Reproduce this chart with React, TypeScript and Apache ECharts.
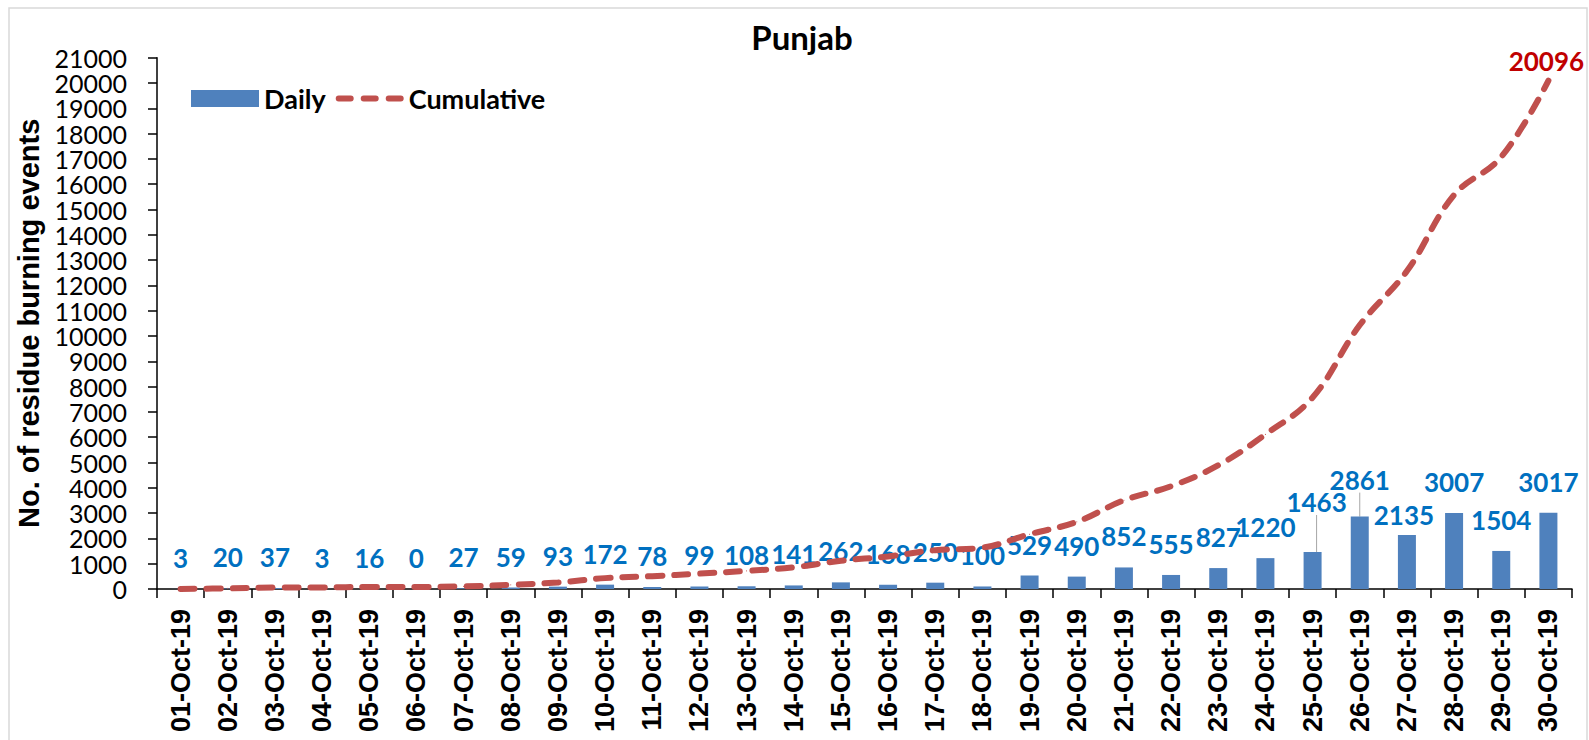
import React, { useEffect, useRef } from "react";
import * as echarts from "echarts";

const categories = [
  "01-Oct-19", "02-Oct-19", "03-Oct-19", "04-Oct-19", "05-Oct-19", "06-Oct-19",
  "07-Oct-19", "08-Oct-19", "09-Oct-19", "10-Oct-19", "11-Oct-19", "12-Oct-19",
  "13-Oct-19", "14-Oct-19", "15-Oct-19", "16-Oct-19", "17-Oct-19", "18-Oct-19",
  "19-Oct-19", "20-Oct-19", "21-Oct-19", "22-Oct-19", "23-Oct-19", "24-Oct-19",
  "25-Oct-19", "26-Oct-19", "27-Oct-19", "28-Oct-19", "29-Oct-19", "30-Oct-19",
];

const daily = [
  3, 20, 37, 3, 16, 0, 27, 59, 93, 172, 78, 99, 108, 141, 262, 168, 250, 100,
  529, 490, 852, 555, 827, 1220, 1463, 2861, 2135, 3007, 1504, 3017,
];

const cumulative = [
  3, 23, 60, 63, 79, 79, 106, 165, 258, 430, 508, 607, 715, 856, 1118, 1286,
  1536, 1636, 2165, 2655, 3507, 4062, 4889, 6109, 7572, 10433, 12568, 15575,
  17079, 20096,
];

const yTicks = { min: 0, max: 21000, interval: 1000 };

// manual label nudges (as in the original chart), index -> [dx, dy]
const labelShift: Record<number, [number, number]> = {
  24: [4, -19],
  25: [0, -6],
  26: [-3, 11],
};
const leaderIdx = [24, 25];

const dashIcon =
  "path://M0,0h0.01v0.01h-0.01z M67.99,16.99h0.01v0.01h-0.01z " +
  "M3,5.5h12a3,3 0 0 1 0,6h-12a3,3 0 0 1 0,-6z " +
  "M28,5.5h12a3,3 0 0 1 0,6h-12a3,3 0 0 1 0,-6z " +
  "M53,5.5h12a3,3 0 0 1 0,6h-12a3,3 0 0 1 0,-6z";

export default function App() {
  const ref = useRef<HTMLDivElement>(null);

  useEffect(() => {
    if (!ref.current) return;
    const chart = echarts.init(ref.current, null, { renderer: "svg" });
    const last = cumulative.length - 1;

    const barData = daily.map((v, i) =>
      leaderIdx.includes(i)
        ? { value: v, labelLine: { show: true, lineStyle: { color: "#A6A6A6", width: 1 } } }
        : v
    );
    const lineData = cumulative.map((v, i) =>
      i === last
        ? {
            value: v,
            label: {
              show: true,
              position: "top",
              distance: 6,
              offset: [-2, 0],
              color: "#C00000",
              fontFamily: "Lato",
              fontWeight: "bold",
              fontSize: 26,
            },
          }
        : v
    );

    chart.setOption({
      animation: false,
      backgroundColor: "#fff",
      title: {
        text: "Punjab",
        left: 797,
        textAlign: "center",
        top: 15,
        textStyle: { fontFamily: "Lato", fontWeight: "bold", fontSize: 33, color: "#000" },
      },
      legend: {
        left: 186,
        top: 80,
        itemWidth: 68,
        itemHeight: 17,
        itemGap: 10,
        textStyle: { fontFamily: "Lato", fontWeight: "bold", fontSize: 27, color: "#000" },
        data: [
          { name: "Daily", icon: "rect" },
          { name: "Cumulative", icon: dashIcon, itemStyle: { color: "#C0504D" } },
        ],
      },
      grid: { left: 157, right: 17, top: 57.7, bottom: 151, containLabel: false },
      xAxis: {
        type: "category",
        data: categories,
        boundaryGap: true,
        axisLine: { lineStyle: { color: "#000", width: 1.5 } },
        axisTick: { show: true, interval: 0, length: 9, lineStyle: { color: "#000", width: 1.5 } },
        axisLabel: {
          interval: 0,
          rotate: 90,
          margin: 20,
          fontFamily: "Liberation Sans",
          fontWeight: "bold",
          fontSize: 27,
          lineHeight: 30,
          color: "#000",
        },
      },
      yAxis: {
        type: "value",
        min: yTicks.min,
        max: yTicks.max,
        interval: yTicks.interval,
        name: "No. of residue burning events",
        nameLocation: "middle",
        nameGap: 103,
        nameTextStyle: { fontFamily: "Liberation Sans", fontWeight: "bold", fontSize: 29, color: "#000" },
        axisLine: { show: true, lineStyle: { color: "#000", width: 1.5 } },
        axisTick: { show: true, length: 9, lineStyle: { color: "#000", width: 1.5 } },
        splitLine: { show: false },
        axisLabel: {
          margin: 30,
          fontFamily: "Lato",
          fontSize: 25,
          lineHeight: 22,
          color: "#000",
          showMinLabel: true,
          showMaxLabel: true,
          hideOverlap: false,
          formatter: (v: number) => String(v),
        },
      },
      series: [
        {
          name: "Daily",
          type: "bar",
          data: barData,
          barWidth: 18,
          itemStyle: { color: "#4F81BD" },
          label: {
            show: true,
            position: "top",
            distance: 18,
            color: "#0070C0",
            fontFamily: "Lato",
            fontWeight: "bold",
            fontSize: 26,
          },
          labelLine: { show: false },
          labelLayout: (p: any) => {
            const s = labelShift[p.dataIndex];
            return s ? { dx: s[0], dy: s[1] } : {};
          },
          z: 2,
        },
        {
          name: "Cumulative",
          type: "line",
          data: lineData,
          smooth: 0.4,
          symbol: "circle",
          symbolSize: 1,
          showSymbol: true,
          lineStyle: { color: "#C0504D", width: 6, type: [14, 12], cap: "round" },
          itemStyle: { color: "#C0504D" },
          z: 3,
        },
      ],
      graphic: [
        {
          type: "rect",
          shape: { x: 9, y: 8, width: 1578, height: 760 },
          style: { fill: "none", stroke: "#D9D9D9", lineWidth: 1.5 },
          silent: true,
        },
      ],
    });
    return () => chart.dispose();
  }, []);

  return (
    <div
      ref={ref}
      style={{ position: "absolute", left: 0, top: 0, width: 1589, height: 740 }}
    />
  );
}
